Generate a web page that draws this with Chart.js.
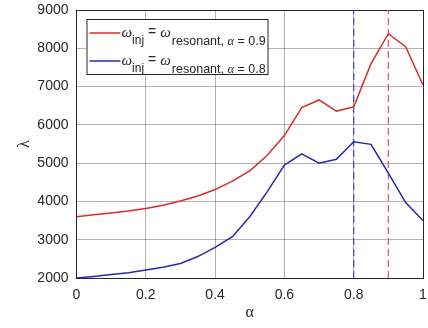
<!DOCTYPE html>
<html>
<head>
<meta charset="utf-8">
<script src="https://cdn.jsdelivr.net/npm/chart.js@4"></script>
<style>
  html, body { margin: 0; padding: 0; background: #fff; }
  #wrap { width: 428px; height: 328px; }
</style>
</head>
<body>
<div id="wrap"><canvas id="myChart" width="428" height="328"></canvas></div>
<script>
// alpha values on the x axis
const alpha = [0, 0.05, 0.1, 0.15, 0.2, 0.25, 0.3, 0.35, 0.4, 0.45, 0.5,
               0.55, 0.6, 0.65, 0.7, 0.75, 0.8, 0.85, 0.9, 0.95, 1];

// lambda, resonant alpha = 0.9 (red)
const lambda09 = [3600, 3650, 3700, 3750, 3815, 3900, 4010, 4140, 4310, 4530, 4800,
                  5200, 5720, 6450, 6650, 6360, 6470, 7600, 8380, 8040, 7040];

// lambda, resonant alpha = 0.8 (blue)
const lambda08 = [2000, 2040, 2090, 2140, 2210, 2280, 2380, 2560, 2800, 3080, 3600,
                  4250, 4950, 5240, 5000, 5100, 5560, 5490, 4740, 3970, 3500];

const markers = [0.8, 0.9];   // dashed vertical lines
const yMin = 2000, yMax = 9000;
const xTicks = [0, 0.2, 0.4, 0.6, 0.8, 1];

const red = 'rgb(214,45,45)';
const blue = 'rgb(40,40,175)';

function toPoints(xs, ys){
  return xs.map((x, i) => ({x: x, y: ys[i]}));
}

// legend with subscripts, matlab style
const legendBox = {
  id: 'legendBox',
  afterDraw(chart){
    const c = chart.ctx;
    const a = chart.chartArea;
    const bx = a.left + 10, by = a.top + 9, bw = 181, bh = 55;
    c.save();
    c.fillStyle = '#fff';
    c.fillRect(bx, by, bw, bh);
    c.strokeStyle = '#262626';
    c.lineWidth = 1;
    c.strokeRect(bx + 0.5, by + 0.5, bw, bh);

    const rows = [
      {color: red, val: '0.9', y: by + 14},
      {color: blue, val: '0.8', y: by + 42}
    ];
    rows.forEach(r => {
      c.strokeStyle = r.color;
      c.lineWidth = 1.5;
      c.beginPath();
      c.moveTo(bx + 3, r.y);
      c.lineTo(bx + 34, r.y);
      c.stroke();

      c.fillStyle = '#262626';
      c.textBaseline = 'alphabetic';
      let x = bx + 35;
      const base = r.y + 4;
      const sub = base + 8;
      c.font = 'italic 15px "Liberation Serif"';
      c.fillText('ω', x, base);
      x += c.measureText('ω').width;
      c.font = '12px "Liberation Sans"';
      c.fillText('inj', x, sub - 1);
      x += c.measureText('inj').width + 4;
      c.font = '14px "Liberation Sans"';
      c.fillText('=', x, base - 1);
      x += c.measureText('=').width + 4;
      c.font = 'italic 15px "Liberation Serif"';
      c.fillText('ω', x, base);
      x += c.measureText('ω').width + 1;
      c.font = '12.5px "Liberation Sans"';
      c.fillText('resonant, ', x, sub);
      x += c.measureText('resonant, ').width;
      c.font = 'italic 12.5px "Liberation Serif"';
      c.fillText('α', x, sub);
      x += c.measureText('α').width;
      c.font = '12.5px "Liberation Sans"';
      c.fillText(' = ' + r.val, x, sub);
    });
    c.restore();
  }
};

function edgeColor(isEdge){
  return isEdge ? '#262626' : 'rgba(0,0,0,0.3)';
}

new Chart(document.getElementById('myChart'), {
  type: 'line',
  data: {
    datasets: [
      {
        label: 'alpha 0.9',
        data: toPoints(alpha, lambda09),
        borderColor: red,
        borderWidth: 1.5,
        pointRadius: 0,
        tension: 0
      },
      {
        label: 'alpha 0.8',
        data: toPoints(alpha, lambda08),
        borderColor: blue,
        borderWidth: 1.5,
        pointRadius: 0,
        tension: 0
      },
      {
        label: 'marker 0.8',
        data: [{x: markers[0], y: yMin}, {x: markers[0], y: yMax}],
        borderColor: 'rgb(70,70,210)',
        borderWidth: 1.3,
        borderDash: [7, 4],
        pointRadius: 0
      },
      {
        label: 'marker 0.9',
        data: [{x: markers[1], y: yMin}, {x: markers[1], y: yMax}],
        borderColor: 'rgb(235,90,110)',
        borderWidth: 1.3,
        borderDash: [7, 4],
        pointRadius: 0
      }
    ]
  },
  options: {
    responsive: false,
    animation: false,
    events: [],
    layout: { padding: { left: 0, right: 5, top: 10, bottom: 0 } },
    plugins: {
      legend: { display: false },
      tooltip: { enabled: false }
    },
    scales: {
      x: {
        type: 'linear',
        min: 0,
        max: 1,
        afterBuildTicks: (s) => { s.ticks = xTicks.map(v => ({value: v})); },
        afterFit: (s) => { s.height = 50; s.paddingLeft = 0; s.paddingRight = 0; },
        ticks: {
          padding: 9,
          color: '#262626',
          font: { family: '"Liberation Sans"', size: 14 },
          callback: (v) => String(Number(v.toFixed(1)))
        },
        grid: {
          drawTicks: false,
          color: (ctx) => edgeColor(ctx.tick && ctx.tick.value === 1),
          lineWidth: 1
        },
        border: { color: '#262626', width: 1 },
        title: {
          display: true,
          text: 'α',
          color: '#262626',
          font: { family: '"Liberation Serif"', size: 16 },
          padding: { top: 0, bottom: 6 }
        }
      },
      y: {
        min: yMin,
        max: yMax,
        afterFit: (s) => { s.width = 76.5; s.paddingTop = 0; s.paddingBottom = 0; },
        ticks: {
          stepSize: 1000,
          padding: 8,
          color: '#262626',
          font: { family: '"Liberation Sans"', size: 14 },
          callback: (v) => String(v)
        },
        grid: {
          drawTicks: false,
          color: (ctx) => edgeColor(ctx.tick && ctx.tick.value === yMax),
          lineWidth: 1
        },
        border: { color: '#262626', width: 1 },
        title: {
          display: true,
          text: 'λ',
          color: '#262626',
          font: { family: '"Liberation Serif"', size: 16 },
          padding: { top: 15, bottom: 0 }
        }
      }
    }
  },
  plugins: [legendBox]
});
</script>
</body>
</html>
